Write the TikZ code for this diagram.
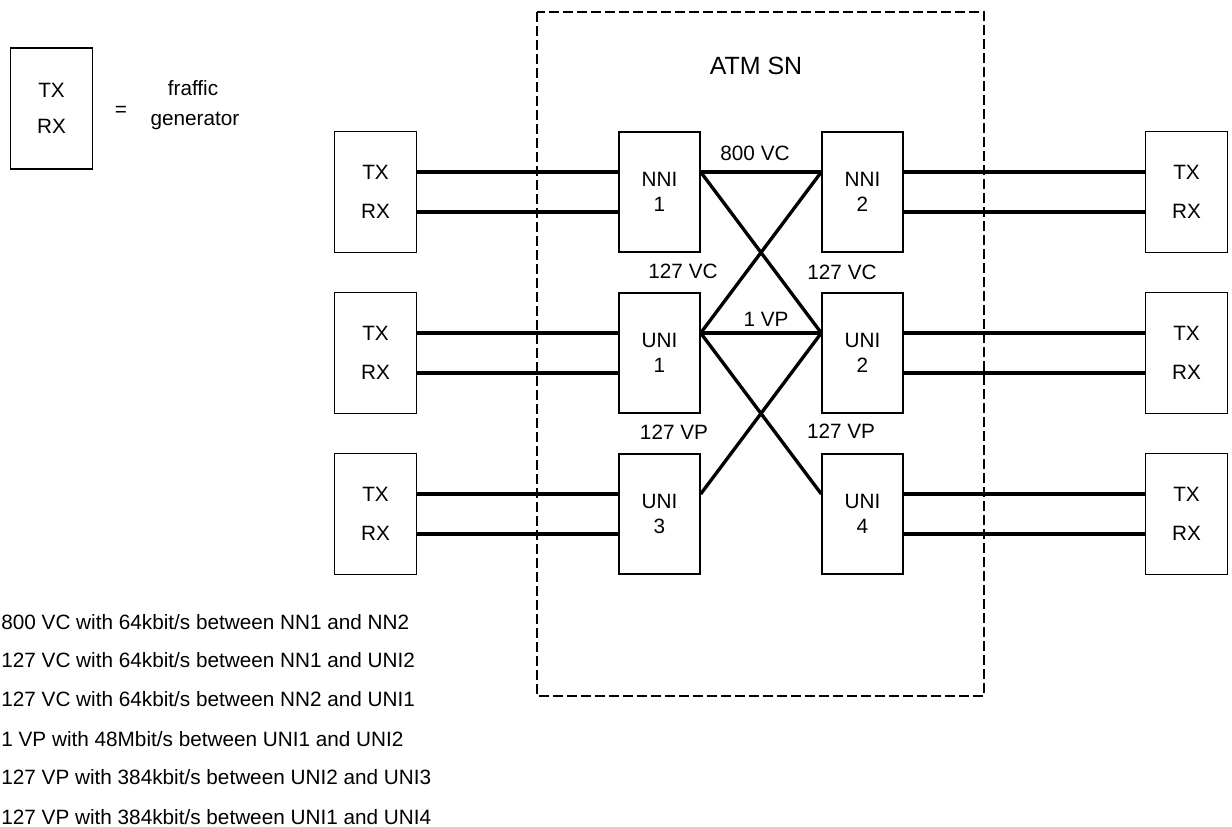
\documentclass[tikz,border=0pt]{standalone}
\usepackage{fontspec}
\setmainfont{Liberation Sans}
\usetikzlibrary{calc}

\begin{document}
\begin{tikzpicture}[x=0.02cm, y=-0.02cm,
  gen/.style={draw, line width=0.8pt, minimum width=1.63cm, minimum height=2.42cm,
    inner sep=0pt, align=center, font=\fontsize{11.8}{22.3}\selectfont},
  sw/.style={draw, line width=0.8pt, minimum width=1.62cm, minimum height=2.4cm,
    inner sep=0pt, align=center, font=\fontsize{11.8}{14.2}\selectfont},
  trunk/.style={line width=2.5pt},
  link/.style={line width=1.9pt},
  lbl/.style={inner sep=0pt, font=\fontsize{11.8}{14}\selectfont}]
  \useasboundingbox (0,0) rectangle (1232,827);
  % legend
  \node[gen, font=\fontsize{11.8}{20.4}\selectfont] (key) at (51.5,108.5) {TX\\RX};
  \node[lbl] (eq) at (121,111) {=};
  \node[lbl] (kw1) at (193,88) {fraffic};
  \node[lbl] (kw2) at (195,121) {generator};
  % switching node
  \draw[line width=0.9pt, dash pattern=on 0.2cm off 0.08cm] (537,12) rectangle (984,696);
  \node[inner sep=0pt, font=\fontsize{14.2}{17}\selectfont] (sn) at (756,66) {ATM SN};
  % traffic generators left and right
  \foreach \r/\y in {1/192, 2/353, 3/514} {
    \node[gen] (L\r) at (375.5,\y) {TX\\RX};
    \node[gen] (R\r) at (1186.5,\y) {TX\\RX};
  }
  \node[sw] (NNI1) at (659.5,192) {NNI\\1};
  \node[sw] (NNI2) at (862.5,192) {NNI\\2};
  \node[sw] (UNI1) at (659.5,353) {UNI\\1};
  \node[sw] (UNI2) at (862.5,353) {UNI\\2};
  \node[sw] (UNI3) at (659.5,514) {UNI\\3};
  \node[sw] (UNI4) at (862.5,514) {UNI\\4};
  % TX and RX lines
  \foreach \a/\b in {L1/NNI1, NNI2/R1, L2/UNI1, UNI2/R2, L3/UNI3, UNI4/R3} {
    \draw[trunk] ([yshift=0.4cm]\a.east) -- ([yshift=0.4cm]\b.west);
    \draw[trunk] ([yshift=-0.4cm]\a.east) -- ([yshift=-0.4cm]\b.west);
  }
  % connections through the switch
  \foreach \a/\b in {NNI1/NNI2, NNI1/UNI2, UNI1/NNI2, UNI1/UNI2, UNI1/UNI4, UNI3/UNI2}
    \draw[link] ([yshift=0.4cm]\a.east) -- ([yshift=0.4cm]\b.west);
  \node[lbl] (c1) at (755,153) {800 VC};
  \node[lbl] (c2) at (683,271) {127 VC};
  \node[lbl] (c3) at (842,272) {127 VC};
  \node[lbl] (c4) at (766,319) {1 VP};
  \node[lbl] (c5) at (674,432) {127 VP};
  \node[lbl] (c6) at (841,431) {127 VP};
  % list of connections
  \node[lbl, anchor=west] (t1) at (1,622) {800 VC with 64kbit/s between NN1 and NN2};
  \node[lbl, anchor=west] (t2) at (1,660) {127 VC with 64kbit/s between NN1 and UNI2};
  \node[lbl, anchor=west] (t3) at (1,699) {127 VC with 64kbit/s between NN2 and UNI1};
  \node[lbl, anchor=west] (t4) at (1,739) {1 VP with 48Mbit/s between UNI1 and UNI2};
  \node[lbl, anchor=west] (t5) at (1,777) {127 VP with 384kbit/s between UNI2 and UNI3};
  \node[lbl, anchor=west] (t6) at (1,817) {127 VP with 384kbit/s between UNI1 and UNI4};
\end{tikzpicture}
\end{document}
